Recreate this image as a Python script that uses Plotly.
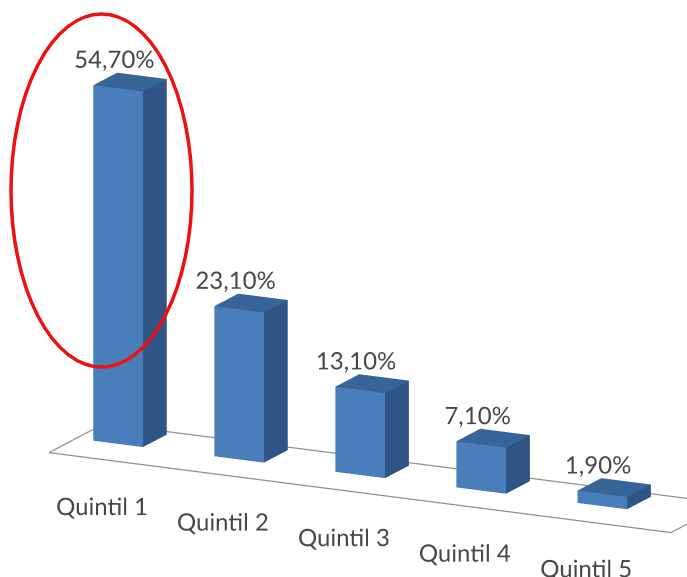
import plotly.graph_objects as go

categories = ["Quintil 1", "Quintil 2", "Quintil 3", "Quintil 4", "Quintil 5"]
values = [54.7, 23.1, 13.1, 7.1, 1.9]
value_labels = ["54,70%", "23,10%", "13,10%", "7,10%", "1,90%"]

FRONT, SIDE, TOP = "#4a7ebb", "#2f5486", "#376499"
W = 0.205
D = 0.43
BAR_DX = -0.11
BAR_DY = 0.4
FONT = "Lato"
TXT = "#484848"

xs, ys, zs, ii, jj, kk, fc = [], [], [], [], [], [], []
for n, v in enumerate(values):
    x0, x1 = n + BAR_DX - W, n + BAR_DX + W
    y0, y1 = BAR_DY - D, BAR_DY + D
    base = len(xs)
    for x, y, z in [(x0, y0, 0), (x1, y0, 0), (x1, y1, 0), (x0, y1, 0),
                    (x0, y0, v), (x1, y0, v), (x1, y1, v), (x0, y1, v)]:
        xs.append(x); ys.append(y); zs.append(z)
    for a, b, c, col in [(0, 1, 5, FRONT), (0, 5, 4, FRONT),
                         (1, 2, 6, SIDE), (1, 6, 5, SIDE),
                         (4, 5, 6, TOP), (4, 6, 7, TOP)]:
        ii.append(base + a); jj.append(base + b); kk.append(base + c); fc.append(col)

fig = go.Figure()
fig.add_trace(go.Scatter3d(x=[-0.46, 4.68, 4.68, -0.46, -0.46], y=[-1, -1, 1, 1, -1], z=[0]*5,
                           mode="lines", line=dict(color="#909090", width=2.5),
                           hoverinfo="skip", showlegend=False))
fig.add_trace(go.Mesh3d(x=xs, y=ys, z=zs, i=ii, j=jj, k=kk, facecolor=fc, flatshading=True,
                        lighting=dict(ambient=1, diffuse=0, specular=0, roughness=1, fresnel=0),
                        hoverinfo="skip", showlegend=False))
fig.add_trace(go.Scatter3d(x=[n - 0.24 for n in range(5)], y=[BAR_DY]*5, z=[v + 3 for v in values],
                           mode="text", text=value_labels, textposition="middle center",
                           textfont=dict(family=FONT, size=24, color=TXT), showlegend=False))
fig.add_trace(go.Scatter3d(x=[n + 0.59 for n in range(5)], y=[-3.68]*5, z=[0]*5,
                           mode="text", text=categories, textposition="middle center",
                           textfont=dict(family=FONT, size=24, color=TXT), showlegend=False))

hidden = dict(visible=False, showgrid=False, zeroline=False, showticklabels=False, title="")
fig.update_layout(
    width=687, height=577, margin=dict(l=0, r=0, t=0, b=0),
    paper_bgcolor="white", showlegend=False,
    scene=dict(
        xaxis=dict(hidden, range=[-0.5, 4.7]), yaxis=dict(hidden, range=[-3.8, 1]),
        zaxis=dict(hidden, range=[0, 60]),
        aspectmode="manual", aspectratio=dict(x=2.434, y=1.04, z=1.40),
        camera=dict(eye=dict(x=0.84, y=-1.73, z=0.57), center=dict(x=-0.016, y=0, z=0.051), up=dict(x=0, y=0, z=1),
                    projection=dict(type="orthographic")),
        domain=dict(x=[0, 1], y=[0, 1]),
    ),
    shapes=[dict(type="circle", xref="paper", yref="paper",
                 x0=11/687, x1=192/687, y0=1-14/577, y1=1-367/577,
                 line=dict(color="#ee1111", width=3.5))],
)
fig.write_html("out.html", config=dict(displayModeBar=False),
               post_script="document.body.style.margin='0';document.body.style.overflow='hidden';")
